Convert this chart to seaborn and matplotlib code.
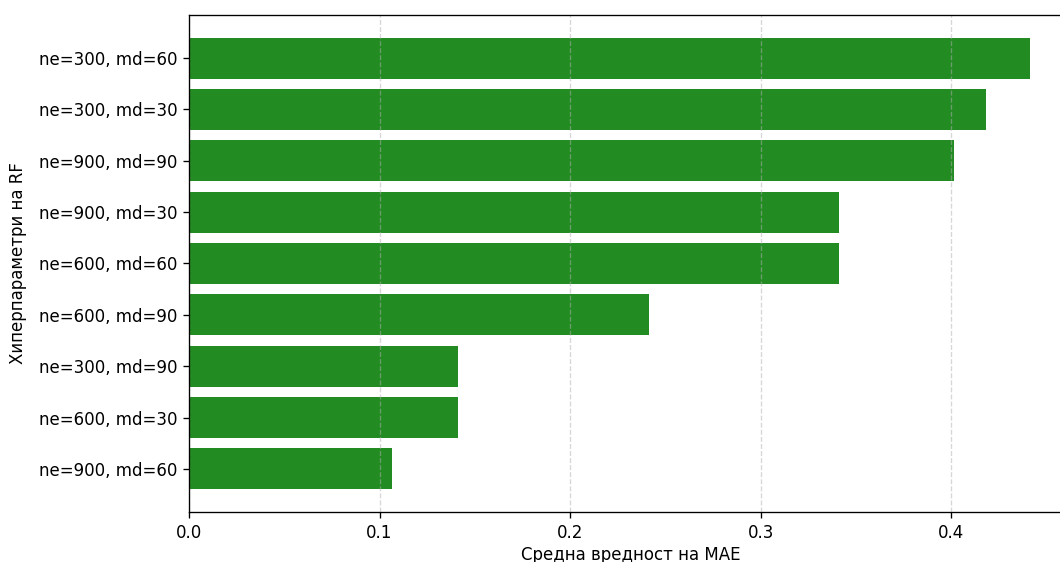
import matplotlib
matplotlib.use("Agg")
import matplotlib.pyplot as plt
import seaborn as sns
import pandas as pd

# Mean MAE per Random Forest hyperparameter combination
configs = [
    "ne=300, md=60",
    "ne=300, md=30",
    "ne=900, md=90",
    "ne=900, md=30",
    "ne=600, md=60",
    "ne=600, md=90",
    "ne=300, md=90",
    "ne=600, md=30",
    "ne=900, md=60",
]
mae_values = [0.4413, 0.4180, 0.4016, 0.3413, 0.3413, 0.2415, 0.1412, 0.1412, 0.1066]

df = pd.DataFrame({"config": configs, "mae": mae_values})

plt.rcParams["font.family"] = ["DejaVu Sans"]
plt.rcParams["font.size"] = 10

dpi = 120
fig = plt.figure(figsize=(1060 / dpi, 562 / dpi), dpi=dpi)
ax = fig.add_axes([0.1783, 0.089, 0.8330, 0.8843])

sns.barplot(data=df, x="mae", y="config", orient="h", color="forestgreen",
            saturation=1, width=0.8, edgecolor="none", ax=ax)

n = len(configs)
ax.set_ylim(n - 1 + 0.84, -0.84)
ax.set_xlim(0, max(mae_values) * 1.05)
ax.set_xticks([0.0, 0.1, 0.2, 0.3, 0.4])
ax.set_xticklabels(["0.0", "0.1", "0.2", "0.3", "0.4"])

ax.set_axisbelow("line")
ax.grid(axis="x", linestyle="--", alpha=0.5)
ax.grid(axis="y", visible=False)

ax.set_xlabel("Средна вредност на MAE", labelpad=2.5)
ax.set_ylabel("Хиперпараметри на RF", labelpad=7)

fig.savefig("out.png", dpi=dpi)
